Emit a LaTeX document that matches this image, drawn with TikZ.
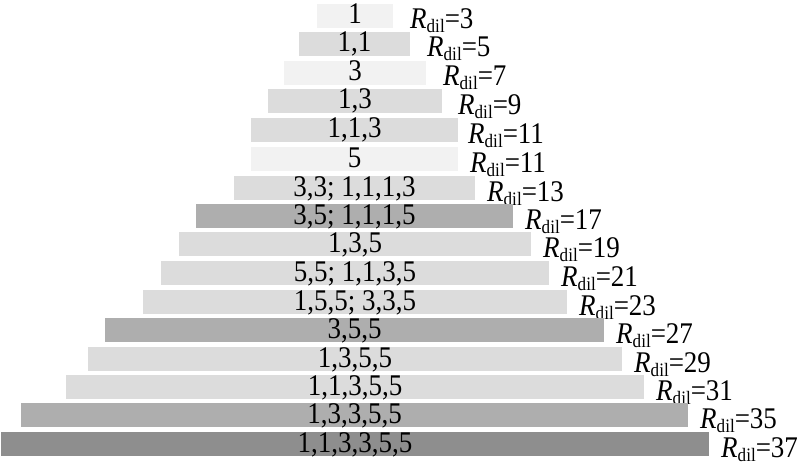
\documentclass[tikz,border=0pt]{standalone}
\usepackage{fontspec}
\setmainfont{Liberation Serif}[FakeStretch=0.9]
\definecolor{barlight}{HTML}{F2F2F2}
\definecolor{barmid}{HTML}{DCDCDC}
\definecolor{bardark}{HTML}{AEAEAE}
\definecolor{bardarkest}{HTML}{8E8E8E}
\newcommand{\Rdil}{\textit{R}\raisebox{-4pt}{\fontsize{19}{19}\selectfont dil}}
\tikzset{
  bartext/.style={anchor=base, inner sep=0pt, font=\fontsize{30}{30}\selectfont},
  rlabel/.style={anchor=base west, inner sep=0pt, font=\fontsize{30}{30}\selectfont},
}
\begin{document}
\begin{tikzpicture}[x=1pt,y=-1pt]
  \useasboundingbox (0,0) rectangle (800,476);
  % row / left / right / top / colour / text / R / label x
  \foreach \n/\l/\r/\t/\c/\txt/\R/\lx in {
      1/317/393/4/barlight/{1}/3/410,
      2/299/410/32/barmid/{1,1}/5/427,
      3/284/426/61/barlight/{3}/7/443,
      4/268/442/89/barmid/{1,3}/9/458,
      5/251/458/118/barmid/{1,1,3}/11/468,
      6/251/458/147/barlight/{5}/11/470,
      7/234/475/176/barmid/{3,3; 1,1,1,3}/13/487,
      8/196/513/204/bardark/{3,5; 1,1,1,5}/17/525,
      9/179/531/232/barmid/{1,3,5}/19/543,
      10/161/549/261/barmid/{5,5; 1,1,3,5}/21/561,
      11/143/567/290/barmid/{1,5,5; 3,3,5}/23/579,
      12/105/604/318/bardark/{3,5,5}/27/616,
      13/88/622/347/barmid/{1,3,5,5}/29/634,
      14/66/644/375/barmid/{1,1,3,5,5}/31/656,
      15/21/688/403/bardark/{1,3,3,5,5}/35/700,
      16/1/709/432/bardarkest/{1,1,3,3,5,5}/37/721}{
    \fill[\c] (\l,\t) rectangle (\r,\t+24);
    \node[bartext] (bar\n) at ({(\l+\r)/2},\t+20) {\txt};
    \node[rlabel] (lab\n) at (\lx,\t+25) {\Rdil=\R};
  }
\end{tikzpicture}
\end{document}
